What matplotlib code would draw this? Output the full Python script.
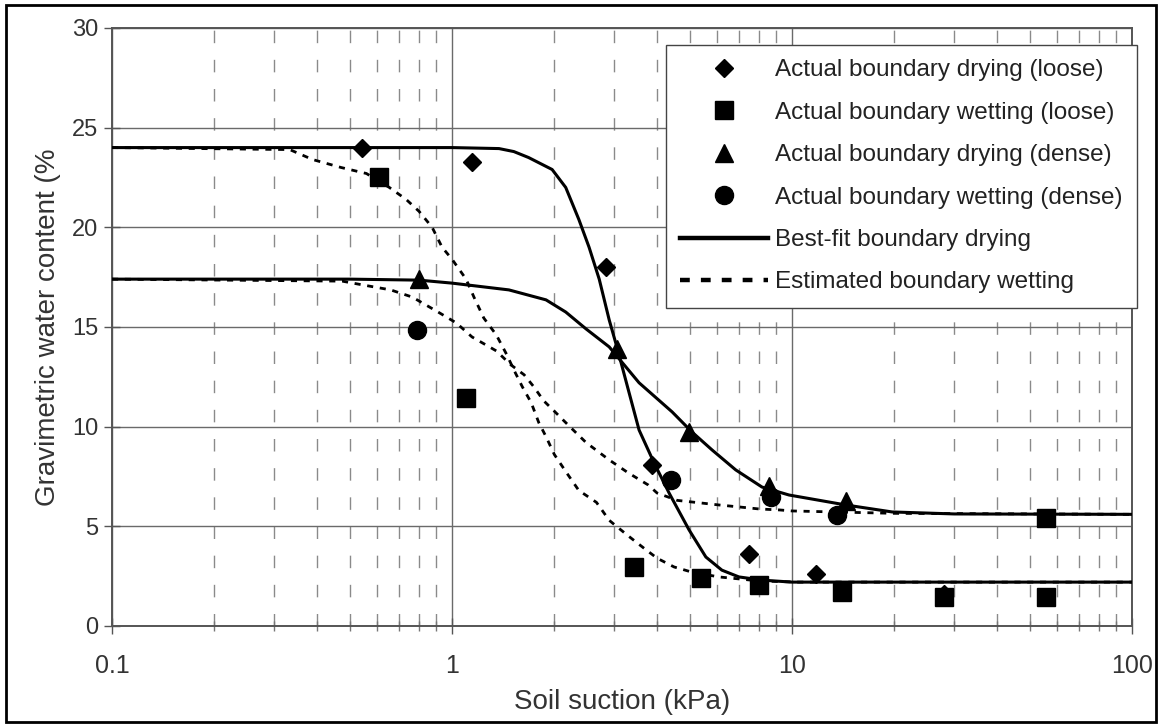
import matplotlib
matplotlib.use('Agg')
import matplotlib.pyplot as plt
from matplotlib.patches import Rectangle

# Точки измерений (всасывание, кПа / влажность, %)
drying_loose_x = [0.545, 1.145, 2.84, 3.87, 7.47, 11.8, 28.0]
drying_loose_y = [24.0, 23.3, 18.0, 8.1, 3.6, 2.6, 1.6]

wetting_loose_x = [0.61, 1.10, 3.43, 5.4, 8.0, 14.0, 28.0, 56.0, 56.0]
wetting_loose_y = [22.5, 11.45, 2.95, 2.4, 2.05, 1.7, 1.45, 1.45, 5.4]

drying_dense_x = [0.80, 3.06, 4.98, 8.56, 14.4]
drying_dense_y = [17.4, 13.9, 9.75, 7.0, 6.25]

wetting_dense_x = [0.79, 4.42, 8.66, 13.6]
wetting_dense_y = [14.85, 7.3, 6.45, 5.57]

# Кривые: аппроксимация осушения и оценка увлажнения
fit_loose_x = [0.1, 0.5, 1.0, 1.375, 1.52, 1.68, 1.97, 2.16, 2.36, 2.53, 2.71,
               2.90, 3.06, 3.3, 3.55, 3.93, 4.35, 4.98, 5.58, 6.22, 6.98, 8.16,
               10.0, 100.0]
fit_loose_y = [24.0, 24.0, 24.0, 23.95, 23.8, 23.5, 22.9, 22.0, 20.4, 19.0, 17.4,
               15.35, 13.95, 11.85, 9.83, 8.18, 6.67, 4.82, 3.46, 2.8, 2.46, 2.3,
               2.2, 2.2]

fit_dense_x = [0.1, 0.5, 0.8, 1.0, 1.47, 1.89, 2.16, 2.48, 2.9, 3.55, 4.44, 5.08,
               5.82, 6.83, 8.16, 9.8, 14.4, 19.7, 30.0, 100.0]
fit_dense_y = [17.4, 17.4, 17.35, 17.2, 16.86, 16.36, 15.75, 14.9, 14.0, 12.2,
               10.74, 9.73, 8.83, 7.83, 6.97, 6.57, 6.07, 5.72, 5.62, 5.6]

est_loose_x = [0.1, 0.333, 0.389, 0.472, 0.56, 0.654, 0.733, 0.80, 0.874, 0.935,
               1.0, 1.10, 1.16, 1.24, 1.35, 1.45, 1.52, 1.61, 1.71, 1.80, 1.89,
               2.0, 2.17, 2.36, 2.66, 2.9, 3.27, 3.67, 4.01, 4.5, 5.08, 6.1, 8.0,
               10.5, 100.0]
est_loose_y = [24.0, 23.9, 23.4, 23.0, 22.7, 22.0, 21.4, 20.8, 20.0, 19.0,
               18.4, 17.4, 16.5, 15.45, 14.6, 13.6, 12.85, 12.0, 11.2, 10.2, 9.5,
               8.6, 7.7, 6.8, 6.2, 5.3, 4.57, 3.9, 3.4, 2.96, 2.7, 2.46, 2.26,
               2.2, 2.2]

est_dense_x = [0.1, 0.475, 0.55, 0.66, 0.764, 0.91, 1.03, 1.145, 1.35, 1.49, 1.63,
               1.74, 1.86, 2.02, 2.22, 2.48, 2.9, 3.3, 3.78, 4.01, 4.6, 5.4, 6.1,
               7.0, 8.0, 9.2, 10.0, 20.0, 100.0]
est_dense_y = [17.4, 17.3, 17.1, 16.86, 16.5, 15.75, 15.2, 14.5, 13.8, 13.1, 12.6,
               12.0, 11.3, 10.7, 10.0, 9.2, 8.33, 7.68, 7.07, 6.67, 6.3, 6.17, 6.07,
               5.97, 5.87, 5.82, 5.77, 5.65, 5.6]

x_ticks = [0.1, 1, 10, 100]
x_tick_labels = ['0.1', '1', '10', '100']
y_ticks = [0, 5, 10, 15, 20, 25, 30]

plt.rcParams['font.family'] = ['Liberation Sans', 'DejaVu Sans']

fig = plt.figure(figsize=(11.61, 7.25), dpi=100)
ax = fig.add_axes([0.0965, 0.1366, 0.8785, 0.8248])

ax.set_xscale('log')
ax.set_xlim(0.1, 100)
ax.set_ylim(0, 30)

# Сетка
ax.grid(which='major', color='#6a6a6a', lw=1.0, ls='-')
ax.grid(which='minor', axis='x', color='#8a8a8a', lw=1.0, ls=(0, (9, 12)))
ax.set_axisbelow(True)

dash = (0, (2.2, 2.4))
ax.plot(fit_loose_x, fit_loose_y, color='black', lw=2.2, zorder=3)
ax.plot(fit_dense_x, fit_dense_y, color='black', lw=2.2, zorder=3)
ax.plot(est_loose_x, est_loose_y, color='black', lw=2.0, ls=dash, zorder=3)
ax.plot(est_dense_x, est_dense_y, color='black', lw=2.0, ls=dash, zorder=3)

ax.plot(drying_loose_x, drying_loose_y, 'D', color='black', ms=9, ls='none', zorder=4)
ax.plot(wetting_loose_x, wetting_loose_y, 's', color='black', ms=13, ls='none', zorder=4)
ax.plot(drying_dense_x, drying_dense_y, '^', color='black', ms=13, ls='none', zorder=4)
ax.plot(wetting_dense_x, wetting_dense_y, 'o', color='black', ms=13, ls='none', zorder=4)

# Легенда
h = [
    plt.Line2D([], [], marker='D', color='black', ms=9, ls='none'),
    plt.Line2D([], [], marker='s', color='black', ms=13, ls='none'),
    plt.Line2D([], [], marker='^', color='black', ms=13, ls='none'),
    plt.Line2D([], [], marker='o', color='black', ms=13, ls='none'),
    plt.Line2D([], [], color='black', lw=3.2),
    plt.Line2D([], [], color='black', lw=3.2, ls=(0, (2.2, 2.5))),
]
labels = ['Actual boundary drying (loose)', 'Actual boundary wetting (loose)',
          'Actual boundary drying (dense)', 'Actual boundary wetting (dense)',
          'Best-fit boundary drying', 'Estimated boundary wetting']
leg = ax.legend(h, labels, loc='upper right', bbox_to_anchor=(1.005, 0.972),
                borderaxespad=0, fontsize=17.5, frameon=True, fancybox=False,
                edgecolor='#444444', framealpha=1, handlelength=3.6,
                handletextpad=0.3, labelspacing=0.84, borderpad=0.6)
leg.get_frame().set_linewidth(1.0)
for t in leg.get_texts():
    t.set_color('#222222')

for s in ax.spines.values():
    s.set_color('#555555')
    s.set_linewidth(1.4)

ax.set_xticks(x_ticks)
ax.set_xticklabels(x_tick_labels)
ax.set_yticks(y_ticks)
ax.tick_params(which='major', direction='inout', length=12, width=1, colors='#555555',
               labelcolor='#333333', labelsize=17, pad=4)
ax.tick_params(which='minor', direction='inout', length=7, width=1, colors='#777777')
ax.tick_params(axis='x', which='major', labelsize=18, pad=14)
ax.yaxis.set_minor_locator(plt.NullLocator())

ax.set_xlabel('Soil suction (kPa)', fontsize=20, color='#333333', labelpad=8)
ax.set_ylabel('Gravimetric water content (%', fontsize=20, color='#333333', labelpad=8)

# Рамка вокруг рисунка
fig.patches.append(Rectangle((0.005, 0.004), 0.991, 0.989, transform=fig.transFigure,
                             fill=False, edgecolor='black', lw=2))

fig.savefig('out.png', dpi=100)
